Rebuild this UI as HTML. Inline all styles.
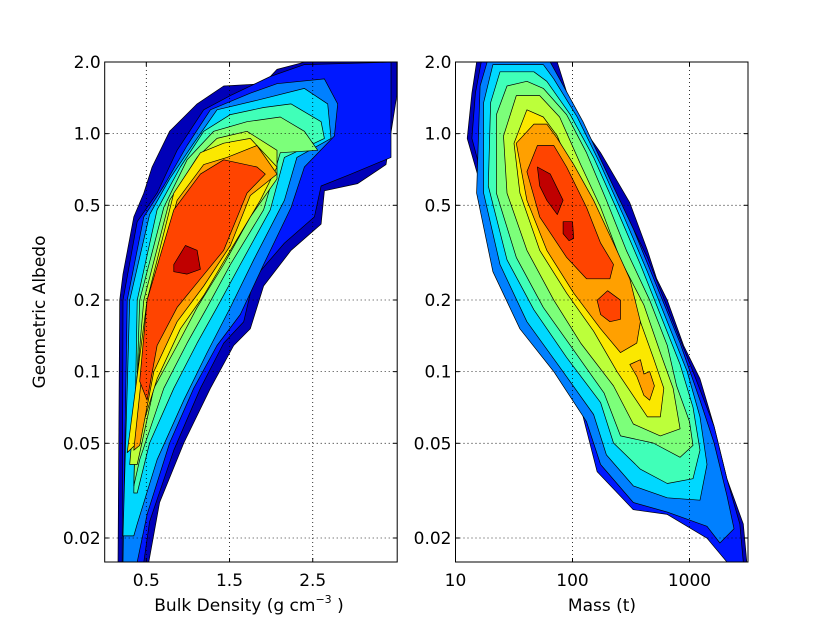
<!DOCTYPE html>
<html><head><meta charset="utf-8">
<style>
html,body{margin:0;padding:0;background:#fff;}
svg{display:block;font-family:"DejaVu Sans","Liberation Sans",sans-serif;}
</style></head>
<body>
<svg id="fig" width="830" height="626" viewBox="0 0 830 626" xmlns="http://www.w3.org/2000/svg">
<rect width="830" height="626" fill="#fff"/>
<defs>
<clipPath id="clipL"><rect x="104.7" y="62" width="292.5" height="500"/></clipPath>
<clipPath id="clipR"><rect x="455.5" y="62" width="292.5" height="500"/></clipPath>
</defs>
<g id="panelL"></g>
<g id="panelR"></g>
<text x="0" y="0" transform="translate(45,312) rotate(-90)" text-anchor="middle" font-size="17">Geometric Albedo</text>
<text x="249" y="611" text-anchor="middle" font-size="17">Bulk Density (g cm<tspan font-size="11" dy="-8">−3</tspan><tspan dy="8"> )</tspan></text>
<text x="602" y="611" text-anchor="middle" font-size="17">Mass (t)</text>
</svg>
<script>
// ---- data ----
const levelColors = ["#0000b8","#0018ff","#0080ff","#00d8ff","#40ffb8","#7cff7a","#bcff3a","#fbe800","#ffa000","#ff4400","#c00000"];
const albedoTicks = [2.0,1.0,0.5,0.2,0.1,0.05,0.02];
const albedoTickLabels = ["2.0","1.0","0.5","0.2","0.1","0.05","0.02"];
const densityTicks = [0.5,1.5,2.5];
const densityTickLabels = ["0.5","1.5","2.5"];
const massTicks = [10,100,1000];
const massTickLabels = ["10","100","1000"];
// Left panel contours: [bulk density, log10 albedo]
const densityLevel0 = [[.16,-1.80],[.18,-.70],[.22,-.59],[.35,-.35],[.47,-.25],[.57,-.14],[.78,.01],[1.11,.125],[1.43,.20],[1.91,.21],[2.07,.27],[2.40,.30],[3.51,.30],[3.51,.16],[3.38,-.13],[3.04,-.21],[2.64,-.24],[2.60,-.38],[2.24,-.49],[1.91,-.64],[1.75,-.82],[1.55,-.89],[1.27,-1.07],[.95,-1.30],[.66,-1.55],[.53,-1.80]];
const densityLevel1 = [[.21,-1.80],[.22,-.70],[.39,-.37],[.63,-.25],[.87,-.07],[1.19,.10],[1.51,.16],[1.99,.24],[2.40,.29],[3.44,.30],[3.44,-.10],[2.96,-.17],[2.60,-.22],[2.52,-.35],[2.16,-.46],[1.79,-.61],[1.67,-.79],[1.43,-.88],[1.15,-1.07],[.83,-1.33],[.54,-1.63],[.47,-1.80]];
const densityLevel2 = [[.22,-1.80],[.27,-.70],[.47,-.35],[.71,-.22],[.99,-.05],[1.27,.10],[1.75,.17],[2.07,.21],[2.64,.23],[2.80,.125],[2.76,-.01],[2.40,-.14],[2.24,-.31],[1.91,-.55],[1.63,-.76],[1.35,-.89],[1.07,-1.07],[.78,-1.30],[.51,-1.60],[.39,-1.80]];
const densityLevel3 = [[.22,-1.69],[.30,-.70],[.54,-.34],[.78,-.19],[1.07,-.04],[1.35,.10],[1.83,.14],[2.40,.19],[2.68,.125],[2.72,-.02],[2.31,-.10],[2.16,-.28],[1.79,-.53],[1.51,-.73],[1.23,-.92],[.95,-1.12],[.63,-1.37],[.39,-1.64],[.35,-1.69]];
const densityLevel4 = [[.35,-1.51],[.39,-.70],[.63,-.32],[.91,-.14],[1.19,.01],[1.51,.08],[1.91,.11],[2.24,.125],[2.60,.05],[2.64,-.02],[2.16,-.10],[1.99,-.32],[1.63,-.55],[1.35,-.73],[1.11,-.88],[.83,-1.07],[.54,-1.30],[.39,-1.51]];
const densityLevel5 = [[.35,-1.48],[.42,-.70],[.71,-.31],[.99,-.11],[1.31,.01],[1.71,.05],[2.11,.07],[2.40,.01],[2.56,-.07],[2.11,-.08],[1.91,-.32],[1.51,-.55],[1.23,-.73],[.99,-.88],[.71,-1.07],[.42,-1.37]];
const densityLevel6 = [[.30,-1.39],[.47,-.70],[.78,-.28],[1.11,-.10],[1.35,-.02],[1.71,.01],[2.07,-.07],[2.07,-.19],[1.75,-.35],[1.43,-.55],[1.11,-.73],[.87,-.89],[.59,-1.07],[.39,-1.39]];
const densityLevel7 = [[.27,-1.34],[.51,-.70],[.83,-.25],[1.15,-.08],[1.43,-.04],[1.75,-.02],[2.07,-.14],[1.87,-.28],[1.51,-.49],[1.19,-.68],[.91,-.82],[.63,-1.03],[.39,-1.30]];
const densityLevel8 = [[.35,-1.33],[.54,-.70],[.87,-.28],[1.19,-.13],[1.47,-.10],[1.83,-.05],[2.07,-.17],[1.75,-.26],[1.51,-.47],[1.19,-.64],[.87,-.79],[.59,-1.00],[.42,-1.31]];
const densityLevel9 = [[.42,-1.04],[.51,-.70],[.83,-.32],[1.15,-.17],[1.43,-.11],[1.83,-.14],[1.93,-.17],[1.71,-.25],[1.43,-.49],[1.15,-.61],[.87,-.73],[.63,-.89],[.51,-1.12]];
const densityLevel10 = [[.83,-.55],[.97,-.47],[1.11,-.49],[1.15,-.57],[.99,-.59],[.83,-.58]];
// Right panel contours: [log10 mass, log10 albedo]
const massLevel0 = [[1.18,.30],[1.87,.30],[2.01,.08],[2.24,-.08],[2.49,-.29],[2.64,-.49],[2.72,-.61],[2.81,-.70],[2.95,-.89],[3.09,-1.03],[3.21,-1.23],[3.32,-1.45],[3.46,-1.64],[3.49,-1.80],[3.38,-1.80],[3.21,-1.72],[3.03,-1.64],[2.81,-1.60],[2.52,-1.42],[2.24,-1.23],[2.04,-1.09],[1.81,-.95],[1.52,-.70],[1.47,-.62],[1.24,-.26],[1.10,-.02],[1.14,.17]];
const massLevel1 = [[1.22,.30],[1.81,.30],[2.01,.08],[2.24,-.14],[2.46,-.34],[2.64,-.52],[2.81,-.73],[3.03,-1.0],[3.21,-1.23],[3.32,-1.45],[3.43,-1.64],[3.46,-1.80],[3.32,-1.80],[3.15,-1.70],[2.81,-1.60],[2.52,-1.58],[2.21,-1.42],[2.07,-1.15],[1.78,-.94],[1.55,-.76],[1.34,-.55],[1.27,-.26],[1.14,-.02],[1.17,.17]];
const massLevel2 = [[1.27,.30],[1.81,.30],[1.89,.23],[2.09,.05],[2.29,-.16],[2.52,-.40],[2.72,-.64],[2.92,-.88],[3.09,-1.12],[3.21,-1.30],[3.32,-1.52],[3.38,-1.66],[3.26,-1.72],[3.15,-1.65],[2.81,-1.59],[2.52,-1.55],[2.24,-1.39],[2.12,-1.21],[1.84,-1.0],[1.55,-.82],[1.32,-.58],[1.18,-.25],[1.21,.20]];
const massLevel3 = [[1.32,.29],[1.75,.29],[1.84,.23],[2.04,.07],[2.24,-.13],[2.44,-.35],[2.64,-.58],[2.81,-.79],[2.98,-1.0],[3.09,-1.19],[3.15,-1.39],[3.09,-1.54],[2.81,-1.53],[2.52,-1.48],[2.29,-1.35],[2.18,-1.18],[1.89,-.98],[1.61,-.79],[1.38,-.55],[1.24,-.25],[1.24,.13]];
const massLevel4 = [[1.38,.26],[1.67,.26],[1.78,.22],[1.98,.08],[2.18,-.10],[2.38,-.32],[2.58,-.55],[2.75,-.76],[2.92,-.97],[3.03,-1.15],[3.09,-1.33],[3.03,-1.45],[2.81,-1.47],[2.58,-1.41],[2.35,-1.30],[2.24,-1.13],[1.95,-.94],[1.67,-.74],[1.44,-.53],[1.28,-.22],[1.30,.13]];
const massLevel5 = [[1.44,.20],[1.61,.22],[1.75,.19],[1.95,.08],[2.12,-.08],[2.29,-.28],[2.46,-.49],[2.66,-.70],[2.81,-.89],[2.89,-1.06],[3.0,-1.21],[3.03,-1.31],[2.92,-1.36],[2.69,-1.30],[2.41,-1.27],[2.27,-1.09],[2.01,-.91],[1.75,-.73],[1.52,-.52],[1.35,-.25],[1.35,.08]];
const massLevel6 = [[1.52,.16],[1.72,.16],[1.89,.07],[2.07,-.13],[2.24,-.31],[2.41,-.53],[2.61,-.72],[2.75,-.92],[2.86,-1.07],[2.92,-1.24],[2.75,-1.27],[2.52,-1.22],[2.35,-1.06],[2.07,-.88],[1.84,-.70],[1.61,-.49],[1.44,-.25],[1.41,-.01]];
const massLevel7 = [[1.61,.10],[1.75,.07],[1.87,-.01],[2.07,-.25],[2.24,-.40],[2.38,-.58],[2.58,-.79],[2.69,-.94],[2.78,-1.07],[2.75,-1.19],[2.64,-1.19],[2.38,-1.0],[2.18,-.83],[1.95,-.67],[1.72,-.49],[1.55,-.25],[1.50,-.04]];
const massLevel8 = [[1.67,.04],[1.78,.04],[1.87,-.02],[2.01,-.13],[2.18,-.28],[2.35,-.46],[2.49,-.61],[2.58,-.79],[2.55,-.88],[2.41,-.92],[2.24,-.82],[2.01,-.67],[1.78,-.49],[1.61,-.28],[1.52,-.04]];
const massLevel8Island = [[2.49,-.97],[2.58,-.95],[2.61,-1.01],[2.66,-1.0],[2.70,-1.06],[2.66,-1.12],[2.61,-1.10],[2.55,-1.02]];
const massLevel9 = [[1.70,-.05],[1.84,-.05],[1.95,-.14],[2.12,-.31],[2.24,-.46],[2.35,-.55],[2.32,-.61],[2.12,-.61],[1.95,-.52],[1.72,-.35],[1.61,-.16]];
const massLevel9Island = [[2.21,-.70],[2.30,-.66],[2.41,-.70],[2.41,-.78],[2.32,-.79],[2.24,-.76]];
const massLevel10 = [[1.70,-.14],[1.81,-.17],[1.92,-.28],[1.87,-.34],[1.78,-.28],[1.72,-.22]];
const massLevel10Island = [[1.92,-.37],[2.0,-.37],[2.01,-.44],[1.97,-.45],[1.92,-.42]];

// ---- axes ----
const NS="http://www.w3.org/2000/svg";
const yTop=62,yBot=562,logAMax=Math.log10(2),logAMin=Math.log10(2)-500/238;
function yFromLog(l){return yTop+(logAMax-l)*(yBot-yTop)/(logAMax-logAMin);}
function yAlb(a){return yFromLog(Math.log10(a));}
const L={x0:104.7,x1:397.2}, R={x0:455.5,x1:748};
function xDen(d){return L.x0+(d-0)/(3.515-0)*(L.x1-L.x0);}
function xLogM(lm){return R.x0+(lm-1)/(3.5-1)*(R.x1-R.x0);}
function xMass(m){return xLogM(Math.log10(m));}

function mk(tag,attrs,parent){const e=document.createElementNS(NS,tag);for(const k in attrs)e.setAttribute(k,attrs[k]);parent.appendChild(e);return e;}

function drawPoly(parent,pts,fx,color,name){
  const p=document.createElementNS(NS,'polygon');
  
  
  p.setAttribute('points',pts.map(q=>fx(q[0]).toFixed(1)+','+yFromLog(q[1]).toFixed(1)).join(' '));
  p.setAttribute('fill',color);p.setAttribute('stroke','#000');p.setAttribute('stroke-width','0.7');p.setAttribute('stroke-linejoin','round');
  parent.appendChild(p);
}

function buildPanel(gid,clip,ax,fx,levels,extras,xt,xtl,xvalFn,prefix){
  const g=document.getElementById(gid);
  const cg=mk('g',{'clip-path':'url(#'+clip+')'},g);
  levels.forEach((pts,i)=>{
    drawPoly(cg,pts,fx,levelColors[i],prefix+'-contour-level-'+i);
    (extras[i]||[]).forEach(ex=>drawPoly(cg,ex,fx,levelColors[i],prefix+'-contour-island-'+i));
  });
  xt.forEach((t,i)=>{
    const x=xvalFn(t);
    const gl=mk('line',{x1:x,x2:x,y1:yTop,y2:yBot,stroke:'#000','stroke-width':0.8,'stroke-dasharray':'1,3'},g);
    
    
    mk('line',{x1:x,x2:x,y1:yBot,y2:yBot-4,stroke:'#000','stroke-width':1},g);
    mk('line',{x1:x,x2:x,y1:yTop,y2:yTop+4,stroke:'#000','stroke-width':1},g);
    const tl=mk('text',{x:x,y:yBot+24,'text-anchor':'middle','font-size':17},g);
    
    
    tl.textContent=xtl[i];
  });
  albedoTicks.forEach((a,i)=>{
    const y=yAlb(a);
    const gl=mk('line',{x1:ax.x0,x2:ax.x1,y1:y,y2:y,stroke:'#000','stroke-width':0.8,'stroke-dasharray':'1,3'},g);
    
    
    mk('line',{x1:ax.x0,x2:ax.x0+4,y1:y,y2:y,stroke:'#000','stroke-width':1},g);
    mk('line',{x1:ax.x1,x2:ax.x1-4,y1:y,y2:y,stroke:'#000','stroke-width':1},g);
    const tl=mk('text',{x:ax.x0-4,y:y+6,'text-anchor':'end','font-size':17},g);
    
    
    tl.textContent=albedoTickLabels[i];
  });
  const fr=mk('rect',{x:ax.x0,y:yTop,width:ax.x1-ax.x0,height:yBot-yTop,fill:'none',stroke:'#000','stroke-width':1},g);
  
  
}

buildPanel('panelL','clipL',L,xDen,
  [densityLevel0,densityLevel1,densityLevel2,densityLevel3,densityLevel4,densityLevel5,densityLevel6,densityLevel7,densityLevel8,densityLevel9,densityLevel10],
  {},densityTicks,densityTickLabels,xDen,'density');
buildPanel('panelR','clipR',R,xLogM,
  [massLevel0,massLevel1,massLevel2,massLevel3,massLevel4,massLevel5,massLevel6,massLevel7,massLevel8,massLevel9,massLevel10],
  {8:[massLevel8Island],9:[massLevel9Island],10:[massLevel10Island]},massTicks,massTickLabels,xMass,'mass');
</script>
</body></html>
